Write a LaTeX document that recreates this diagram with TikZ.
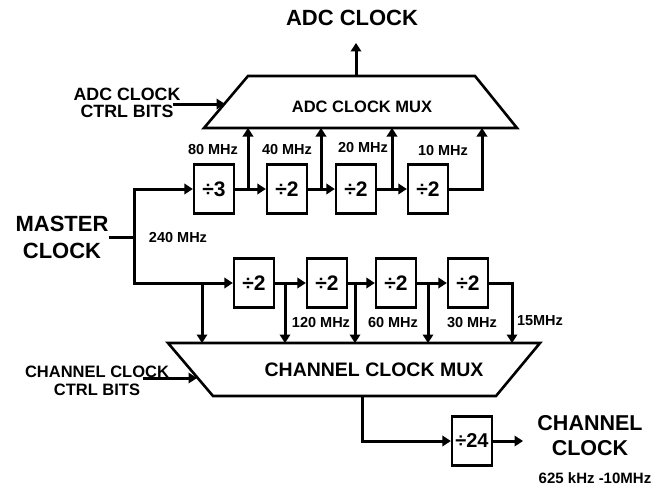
\documentclass[tikz,border=0pt]{standalone}
\usepackage{fontspec}
\setmainfont{Liberation Sans}
\usetikzlibrary{arrows.meta,calc}
\begin{document}
\begin{tikzpicture}[x=1pt,y=-1pt,
  wire/.style={line width=3pt},
  arr/.style={wire,-{Triangle[length=8.5pt,width=10.5pt]}},
  divbox/.style={draw,line width=2.3pt,minimum width=40pt,minimum height=49pt,inner sep=0pt,font=\fontsize{21}{21}\selectfont\bfseries},
  muxshape/.style={line width=2.6pt,line join=miter},
  big/.style={font=\fontsize{22}{26}\selectfont\bfseries,align=center,inner sep=0pt},
  mid/.style={font=\fontsize{16.5}{18}\selectfont\bfseries,align=center,inner sep=0pt},
  freq/.style={font=\fontsize{14.5}{14.5}\selectfont\bfseries,inner sep=0pt}
]
\useasboundingbox (0,0) rectangle (661,487);
\fill[white] (0,0) rectangle (661,487);

% titles and labels
\node[big] (adcclk) at (352,18) {ADC CLOCK};
\node[big,font=\fontsize{22}{27}\selectfont\bfseries] (master) at (62,237) {MASTER\\CLOCK};
\node[big,font=\fontsize{21.5}{25}\selectfont\bfseries] (chclk) at (590,436) {CHANNEL\\CLOCK};
\node[freq,font=\fontsize{15}{15}\selectfont\bfseries] (chrange) at (595,478) {625 kHz -10MHz};
\node[mid,font=\fontsize{17.8}{17.5}\selectfont\bfseries] (adcctl) at (127,103) {ADC CLOCK\\CTRL BITS};
\node[mid] (chctl) at (97,381) {CHANNEL CLOCK\\CTRL BITS};

% ADC clock mux
\coordinate (aTL) at (248,76);
\coordinate (aTR) at (475,76);
\coordinate (aBR) at (517,128);
\coordinate (aBL) at (204,128);
\draw[muxshape] (aTL) -- (aTR) -- (aBR) -- (aBL) -- cycle;
\node[font=\fontsize{16.5}{16.5}\selectfont\bfseries] (adcmux) at (362,107) {ADC CLOCK MUX};
\coordinate (adcbot) at (360,128);

% channel clock mux
\coordinate (cTL) at (168,343);
\coordinate (cTR) at (540,343);
\coordinate (cBR) at (496,396);
\coordinate (cBL) at (213,396);
\draw[muxshape] (cTL) -- (cTR) -- (cBR) -- (cBL) -- cycle;
\node[font=\fontsize{19.5}{19.5}\selectfont\bfseries] (chmux) at (374,370) {CHANNEL CLOCK MUX};
\coordinate (chtop) at (360,343);

% divider boxes, top row
\node[divbox] (t1) at (214,189) {÷3};
\node[divbox] (t2) at (287,189) {÷2};
\node[divbox] (t3) at (356,189) {÷2};
\node[divbox] (t4) at (428,189) {÷2};
% divider boxes, bottom row
\node[divbox] (u1) at (254,283) {÷2};
\node[divbox] (u2) at (327,283) {÷2};
\node[divbox] (u3) at (396,283) {÷2};
\node[divbox] (u4) at (468,283) {÷2};
% divide by 24
\node[divbox,font=\fontsize{20}{20}\selectfont\bfseries] (d24) at (472,441) {÷24};

% master clock distribution
\coordinate (mj) at (134,237);
\coordinate (mtop) at (134,189);
\coordinate (mbot) at (134,283);
\draw[wire] (master.east |- mj) -- (mj);
\draw[wire,line cap=rect] (mtop) -- (mbot);
\draw[arr] (mtop) -- (t1.west);
\draw[arr] (mbot) -- (u1.west);

% top chain
\coordinate (ja1) at (248,189);
\coordinate (ja2) at (321,189);
\coordinate (ja3) at (392,189);
\coordinate (ja4) at (482,128);
\draw[arr] (t1.east) -- (t2.west);
\draw[arr] (t2.east) -- (t3.west);
\draw[arr] (t3.east) -- (t4.west);
\draw[arr] (ja1) -- (ja1 |- adcbot);
\draw[arr] (ja2) -- (ja2 |- adcbot);
\draw[arr] (ja3) -- (ja3 |- adcbot);
\draw[arr] (t4.east) -| (ja4);

% bottom chain
\coordinate (jb0) at (202,283);
\coordinate (jb1) at (285,283);
\coordinate (jb2) at (355,283);
\coordinate (jb3) at (428,283);
\coordinate (jb4) at (512,343);
\draw[arr] (u1.east) -- (u2.west);
\draw[arr] (u2.east) -- (u3.west);
\draw[arr] (u3.east) -- (u4.west);
\draw[arr] (jb0) -- (jb0 |- chtop);
\draw[arr] (jb1) -- (jb1 |- chtop);
\draw[arr] (jb2) -- (jb2 |- chtop);
\draw[arr] (jb3) -- (jb3 |- chtop);
\draw[arr] (u4.east) -| (jb4);

% frequency labels
\node[freq] (f80) at (213,150) {80 MHz};
\node[freq] (f40) at (287,150) {40 MHz};
\node[freq] (f20) at (363,148) {20 MHz};
\node[freq] (f10) at (443,151) {10 MHz};
\node[freq] (f240) at (178,238) {240 MHz};
\node[freq] (f120) at (321,323) {120 MHz};
\node[freq] (f60) at (393,323) {60 MHz};
\node[freq] (f30) at (472,323) {30 MHz};
\node[freq] (f15) at (540,321) {15MHz};

% ADC clock output
\coordinate (adcout) at (356,76);
\coordinate (adctip) at (356,43);
\draw[arr] (adcout) -- (adctip);

% control inputs
\coordinate (actl) at (173,104);
\coordinate (actlend) at (225,104);
\draw[arr] (actl) -- (actlend);
\coordinate (cctl) at (143,378);
\coordinate (cctlend) at (197,378);
\draw[arr] (cctl) -- (cctlend);

% channel clock output
\coordinate (chout) at (362,396);
\coordinate (chend) at (523,441);
\draw[arr] (chout) |- (d24.west);
\draw[arr] (d24.east) -- (chend);
\end{tikzpicture}
\end{document}
